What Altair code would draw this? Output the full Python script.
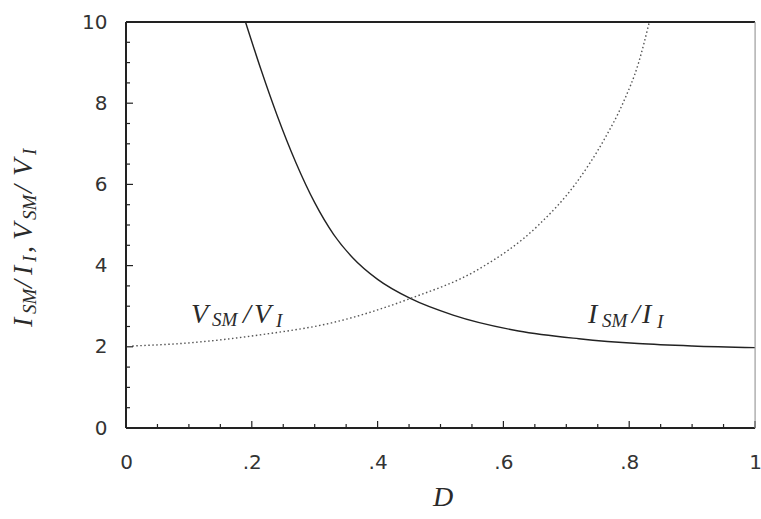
import altair as alt
import pandas as pd

# I_SM / I_I versus duty ratio D (solid curve)
d_current = [0.19, 0.215, 0.24, 0.27, 0.30, 0.33, 0.36, 0.40, 0.452, 0.52, 0.624, 0.72, 0.814, 0.90, 1.0]
i_ratio = [10.0, 8.81, 7.71, 6.54, 5.55, 4.77, 4.2, 3.66, 3.19, 2.78, 2.39, 2.2, 2.08, 2.02, 1.98]

# V_SM / V_I versus duty ratio D (dotted curve)
d_voltage = [0.01, 0.095, 0.216, 0.327, 0.452, 0.557, 0.656, 0.714, 0.76, 0.79, 0.815, 0.832]
v_ratio = [2.02, 2.09, 2.30, 2.59, 3.19, 3.88, 5.0, 6.0, 7.1, 8.0, 9.0, 10.0]

x_major = [0, 0.2, 0.4, 0.6, 0.8, 1.0]
x_minor = [0.05, 0.1, 0.15, 0.25, 0.3, 0.35, 0.45, 0.5, 0.55, 0.65, 0.7, 0.75, 0.85, 0.9, 0.95]
y_major = [0, 2, 4, 6, 8, 10]
y_minor = [0.5, 1, 1.5, 2.5, 3, 3.5, 4.5, 5, 5.5, 6.5, 7, 7.5, 8.5, 9, 9.5]

W, H = 629, 406
INK = "#222222"
SERIF = "Liberation Serif"
SANS = "DejaVu Sans"

xscale = alt.Scale(domain=[0, 1], nice=False, zero=False)
yscale = alt.Scale(domain=[0, 10], nice=False, zero=False)

x_axis = alt.Axis(
    values=x_major, ticks=False, domain=False, grid=False, title=None,
    labelExpr="datum.value == 0 ? '0' : datum.value == 1 ? '1' : replace(format(datum.value, '.1f'), '0.', '.')",
    labelFont=SANS, labelFontSize=20, labelColor="#333333", labelPadding=24, labelFlush=False,
)
y_axis = alt.Axis(
    values=y_major, ticks=False, domain=False, grid=False, title=None,
    labelFont=SANS, labelFontSize=20, labelColor="#333333", labelPadding=19, labelFlush=False,
)


def X(field):
    return alt.X(field, type="quantitative", scale=xscale, axis=x_axis)


def Y(field):
    return alt.Y(field, type="quantitative", scale=yscale, axis=y_axis)


current = alt.Chart(pd.DataFrame({"D": d_current, "r": i_ratio})).mark_line(
    color=INK, strokeWidth=1.4, interpolate="monotone", clip=True
).encode(x=X("D"), y=Y("r"))

voltage = alt.Chart(pd.DataFrame({"D": d_voltage, "r": v_ratio})).mark_line(
    color="#555555", strokeWidth=1.4, strokeDash=[1.5, 2.5], interpolate="monotone", clip=True
).encode(x=X("D"), y=Y("r"))


# inward tick marks on the bottom and left edges
def xticks(vals, length):
    return alt.Chart(pd.DataFrame({"t": vals})).mark_rule(color=INK, strokeWidth=1.2).encode(
        x=X("t"), y=alt.value(H), y2=alt.value(H - length)
    )


def yticks(vals, length):
    return alt.Chart(pd.DataFrame({"t": vals})).mark_rule(color=INK, strokeWidth=1.2).encode(
        y=Y("t"), x=alt.value(0), x2=alt.value(length)
    )


# frame
def edge(x, x2, y, y2, color, width):
    return alt.Chart(alt.Data(values=[{}])).mark_rule(color=color, strokeWidth=width).encode(
        x=alt.value(x), x2=alt.value(x2), y=alt.value(y), y2=alt.value(y2)
    )


frame = [
    edge(0, 0, 0, H, INK, 2),
    edge(0, W, H, H, INK, 2),
    edge(0, W, 0, 0, INK, 2),
    edge(W, W, 0, H, "#999999", 1),
]


def piece(s, x, y, size, angle=0):
    props = dict(text=s, font=SERIF, fontStyle="italic", fontSize=size,
                 align="left", baseline="alphabetic", color="#2a2a2a")
    if angle:
        props["angle"] = angle
    return alt.Chart(alt.Data(values=[{}])).mark_text(**props).encode(
        x=alt.value(x), y=alt.value(y)
    )


OX, OY = 126, 22  # plot origin on the page
BIG, SMALL = 28, 19

labels = [
    # V_SM / V_I
    piece("V", 191 - OX, 323 - OY, BIG),
    piece("SM", 212 - OX, 326 - OY, SMALL),
    piece("/", 243 - OX, 323 - OY, BIG),
    piece("V", 254 - OX, 323 - OY, BIG),
    piece("I", 276 - OX, 327 - OY, SMALL),
    # I_SM / I_I
    piece("I", 588 - OX, 323 - OY, BIG),
    piece("SM", 602 - OX, 327 - OY, SMALL),
    piece("/", 632 - OX, 323 - OY, BIG),
    piece("I", 642 - OX, 323 - OY, BIG),
    piece("I", 657 - OX, 328 - OY, SMALL),
    # x-axis title
    piece("D", 433 - OX, 506 - OY, BIG),
    # y-axis title, read bottom to top
    piece("I", 32 - OX, 327 - OY, BIG, 270),
    piece("SM", 36 - OX, 314 - OY, SMALL, 270),
    piece("/", 32 - OX, 288 - OY, BIG, 270),
    piece("I", 32 - OX, 275 - OY, BIG, 270),
    piece("I", 36 - OX, 262 - OY, SMALL, 270),
    piece(",", 32 - OX, 253 - OY, BIG, 270),
    piece("V", 32 - OX, 240 - OY, BIG, 270),
    piece("SM", 36 - OX, 220 - OY, SMALL, 270),
    piece("/", 32 - OX, 193 - OY, BIG, 270),
    piece("V", 32 - OX, 176 - OY, BIG, 270),
    piece("I", 36 - OX, 155 - OY, SMALL, 270),
]

chart = alt.layer(
    current, voltage,
    xticks(x_major, 7), xticks(x_minor, 4),
    yticks(y_major, 7), yticks(y_minor, 4),
    *frame, *labels,
).properties(
    width=W, height=H,
    autosize=alt.AutoSizeParams(type="none"),
    padding={"left": OX, "top": OY, "right": 761 - OX - W, "bottom": 519 - OY - H},
).configure_view(stroke=None).configure(background="white")

chart.save("out.html", embed_options={"renderer": "svg", "actions": False})
